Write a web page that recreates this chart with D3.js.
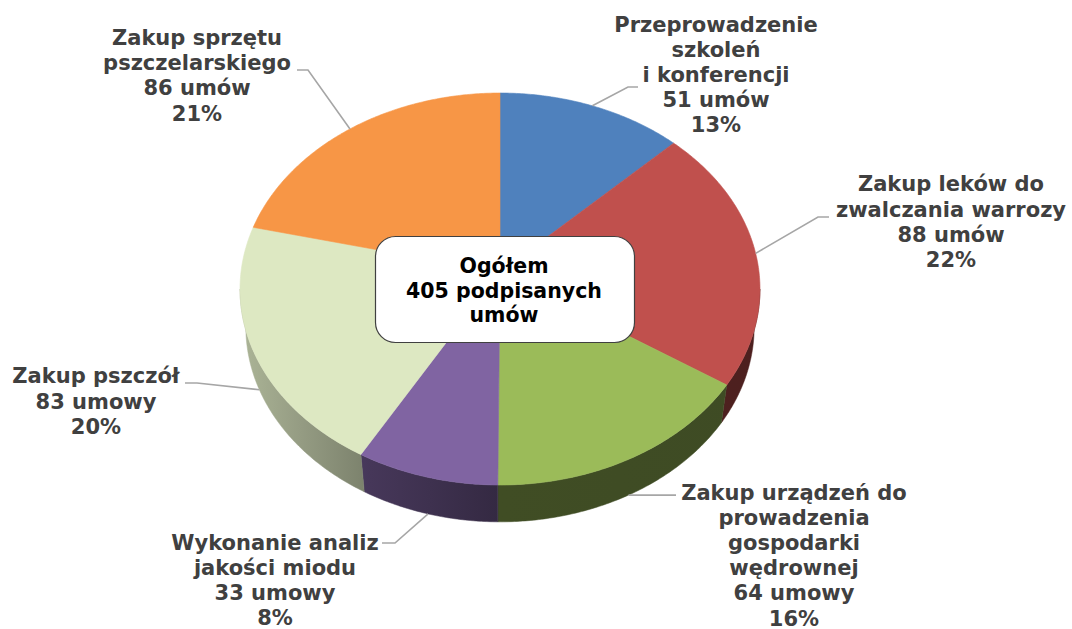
<!DOCTYPE html>
<html>
<head>
<meta charset="utf-8">
<script src="https://cdn.jsdelivr.net/npm/d3@7"></script>
<style>
  html, body { margin: 0; padding: 0; background: #ffffff; }
  svg { display: block; }
</style>
</head>
<body>
<svg id="chart" width="1072" height="629"></svg>
<script>
// ---- data ----
const categories = [
  "Przeprowadzenie szkoleń i konferencji",
  "Zakup leków do zwalczania warrozy",
  "Zakup urządzeń do prowadzenia gospodarki wędrownej",
  "Wykonanie analiz jakości miodu",
  "Zakup pszczół",
  "Zakup sprzętu pszczelarskiego"
];
const values = [51, 88, 64, 33, 83, 86];
const categoryLines = [
  ["Przeprowadzenie", "szkoleń", "i konferencji"],
  ["Zakup leków do", "zwalczania warrozy"],
  ["Zakup urządzeń do", "prowadzenia", "gospodarki", "wędrownej"],
  ["Wykonanie analiz", "jakości miodu"],
  ["Zakup pszczół"],
  ["Zakup sprzętu", "pszczelarskiego"]
];
const countLabels = ["51 umów", "88 umów", "64 umowy", "33 umowy", "83 umowy", "86 umów"];
const percentLabels = ["13%", "22%", "16%", "8%", "20%", "21%"];
const totalLines = ["Ogółem", "405 podpisanych", "umów"];

// ---- style / layout ----
const colors = ["#4f81bd", "#c0504d", "#9bbb59", "#8064a2", "#dde8c2", "#f79646"];
// label anchor (centre x, first baseline y), leader elbow & end, leader attach (top/bottom rim)
const labelLayout = [
  { x: 716, y: 31.5, elbow: [628, 87],  end: [638, 87],  rim: "top" },
  { x: 951, y: 191.4, elbow: [818, 217], end: [829, 217], rim: "top" },
  { x: 794, y: 499.5, elbow: null,      end: [676, null], rim: "bottom" },
  { x: 275, y: 549.5, elbow: [395, 543], end: [382, 543], rim: "bottom" },
  { x: 96,  y: 383.3, elbow: [197, 383], end: [185, 383], rim: "bottom" },
  { x: 197, y: 45,    elbow: [308, 70],  end: [297, 70],  rim: "top" }
];
const lineH = 25.2;

// ---- 3D projection of the pie ----
const sinA = 0.751, cosA = Math.sqrt(1 - sinA * sinA);
const D = 7.605, F = 1969.7, CX = 500, CY = 272, H = 0.23;
function proj(phi, r, yLevel) {
  const X = r * Math.sin(phi), Z = -r * Math.cos(phi);
  const sy = -yLevel * cosA + Z * sinA;
  const w = D - Z * cosA - yLevel * sinA;
  return [CX + F * X / w, CY + F * sy / w];
}
// silhouette angles (where the side wall becomes visible)
const silR = Math.acos(-cosA / D);
const silL = 2 * Math.PI - silR;

const svg = d3.select("#chart");
const defs = svg.append("defs");

const pie = d3.pie().sort(null).value(d => d).startAngle(0).endAngle(2 * Math.PI);
const arcs = pie(values);

// wall gradients (lighting darker to the right)
const shade = d3.scaleLinear().domain([240, 370, 500, 760]).range([0.78, 0.55, 0.41, 0.40]);
arcs.forEach((a, i) => {
  const g = defs.append("linearGradient")
    .attr("id", "wall" + i)
    .attr("gradientUnits", "userSpaceOnUse")
    .attr("x1", 240).attr("x2", 760).attr("y1", 0).attr("y2", 0);
  const base = d3.rgb(colors[i]);
  [240, 300, 370, 430, 500, 620, 760].forEach(xs => {
    const f = shade(xs);
    g.append("stop")
      .attr("offset", (xs - 240) / 520)
      .attr("stop-color", d3.rgb(base.r * f, base.g * f, base.b * f).formatHex());
  });
});

const line = d3.line();
function sample(a0, a1, yLevel) {
  const n = Math.max(2, Math.ceil(Math.abs(a1 - a0) / 0.01));
  const pts = [];
  for (let k = 0; k <= n; k++) pts.push(proj(a0 + (a1 - a0) * k / n, 1, yLevel));
  return pts;
}

// side walls
const wallG = svg.append("g");
arcs.forEach((a, i) => {
  const b0 = Math.max(a.startAngle, silR);
  const b1 = Math.min(a.endAngle, silL);
  if (b1 <= b0) return;
  const pts = sample(b0, b1, 0).concat(sample(b1, b0, -H));
  wallG.append("path")
    .attr("d", line(pts) + "Z")
    .attr("fill", "url(#wall" + i + ")")
    .attr("stroke", "url(#wall" + i + ")")
    .attr("stroke-width", 0.5);
});

// top faces
const topG = svg.append("g");
const centre = proj(0, 0, 0);
arcs.forEach((a, i) => {
  const pts = [centre].concat(sample(a.startAngle, a.endAngle, 0));
  topG.append("path")
    .attr("d", line(pts) + "Z")
    .attr("fill", colors[i])
    .attr("stroke", colors[i])
    .attr("stroke-width", 0.6)
    .attr("stroke-linejoin", "round");
});

// leader lines
const leaderG = svg.append("g")
  .attr("fill", "none").attr("stroke", "#a6a6a6").attr("stroke-width", 1.6);
arcs.forEach((a, i) => {
  const L = labelLayout[i];
  const mid = (a.startAngle + a.endAngle) / 2;
  const start = proj(mid, 1, L.rim === "top" ? 0 : -H);
  const pts = [start];
  if (L.elbow) pts.push(L.elbow);
  pts.push([L.end[0], L.end[1] == null ? start[1] : L.end[1]]);
  leaderG.append("path").attr("d", line(pts));
});

// data labels
const labelG = svg.append("g")
  .attr("font-family", "'DejaVu Sans', Verdana, sans-serif")
  .attr("font-weight", "bold")
  .attr("font-size", "21px")
  .attr("fill", "#404040")
  .attr("text-anchor", "middle");
arcs.forEach((a, i) => {
  const L = labelLayout[i];
  const lines = categoryLines[i].concat([countLabels[i], percentLabels[i]]);
  const t = labelG.append("text").attr("x", L.x).attr("y", L.y);
  lines.forEach((s, k) => {
    t.append("tspan").attr("x", L.x).attr("y", L.y + k * lineH).text(s);
  });
});

// centre box
svg.append("rect")
  .attr("x", 375.5).attr("y", 236.5).attr("width", 259).attr("height", 106)
  .attr("rx", 20).attr("ry", 20)
  .attr("fill", "#ffffff").attr("stroke", "#404040").attr("stroke-width", 1.2);
const ct = svg.append("text")
  .attr("font-family", "'DejaVu Sans', Verdana, sans-serif")
  .attr("font-weight", "bold").attr("font-size", "20.5px")
  .attr("fill", "#000000").attr("text-anchor", "middle");
totalLines.forEach((s, k) => {
  ct.append("tspan").attr("x", 504).attr("y", 273 + k * 24.5).text(s);
});
</script>
</body>
</html>
